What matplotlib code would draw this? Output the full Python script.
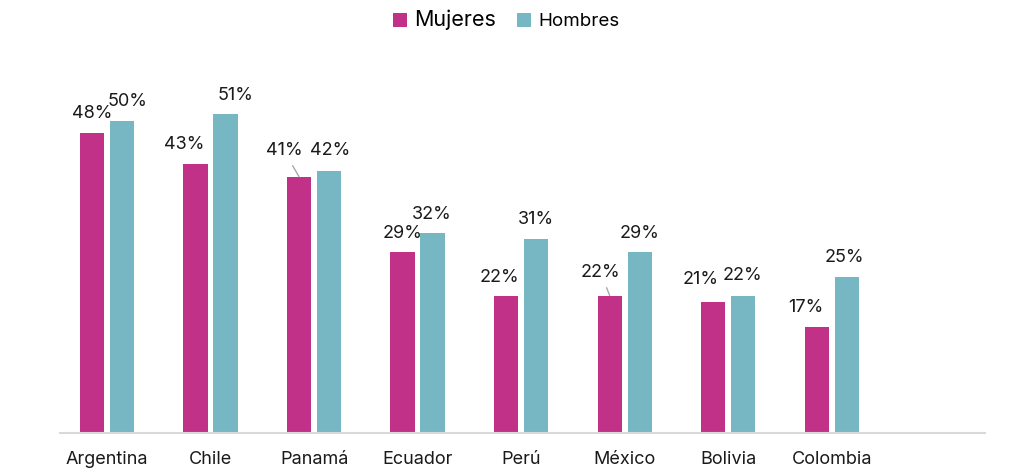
import matplotlib.pyplot as plt
import numpy as np

plt.rcParams['font.family'] = ['Inter', 'DejaVu Sans']

paises = ['Argentina', 'Chile', 'Panamá', 'Ecuador', 'Perú', 'México', 'Bolivia', 'Colombia']
mujeres = [48, 43, 41, 29, 22, 22, 21, 17]
hombres = [50, 51, 42, 32, 31, 29, 22, 25]

# label shifts in pixels (dx, dy above bar top)
off_muj = [(0, 20), (-11, 20), (-15, 26), (0, 18), (-7, 18), (-9, 23), (-13, 22), (-11, 19)]
off_hom = [(5, 19), (10, 19), (1, 20), (-1, 19), (0, 20), (0, 18), (-1, 20), (-2, 19)]
leader = [False, False, True, False, False, True, False, False]

c_muj = '#C23188'
c_hom = '#76B7C3'

fig = plt.figure(figsize=(10.24, 4.75), dpi=100)
# axes: x 60..985 px, y baseline 433, top 60
ax = fig.add_axes([60 / 1024, 42 / 475, 925 / 1024, 373 / 475])

x = np.arange(len(paises))
w = 0.235
d = 0.145
b1 = ax.bar(x - d, mujeres, w, color=c_muj, label='Mujeres')
b2 = ax.bar(x + d, hombres, w, color=c_hom, label='Hombres')

px = 72 / 100  # pixels -> points
for i in range(len(paises)):
    dx, dy = off_muj[i]
    kw = {}
    if leader[i]:
        kw = dict(arrowprops=dict(arrowstyle='-', color='#A8A8A8', lw=1, shrinkA=3, shrinkB=0))
    ax.annotate(f'{mujeres[i]}%', (x[i] - d, mujeres[i]), xytext=(dx * px, dy * px),
                textcoords='offset points', ha='center', va='center', fontsize=13,
                color='#1a1a1a', **kw)
    dx, dy = off_hom[i]
    ax.annotate(f'{hombres[i]}%', (x[i] + d, hombres[i]), xytext=(dx * px, dy * px),
                textcoords='offset points', ha='center', va='center', fontsize=13,
                color='#1a1a1a')

ax.set_xlim(-0.454, 8.48)
ax.set_ylim(0, 59.7)
ax.set_xticks(x)
ax.set_xticklabels(paises, fontsize=13, color='#1a1a1a')
ax.tick_params(axis='x', length=0, pad=13)
ax.set_yticks([])
for s in ['top', 'right', 'left']:
    ax.spines[s].set_visible(False)
ax.spines['bottom'].set_color('#D9D9D9')
ax.spines['bottom'].set_linewidth(1.5)

leg = fig.legend(handles=[b1, b2], loc='center', bbox_to_anchor=(506 / 1024, 1 - 20 / 475),
                 ncol=2, frameon=False, handlelength=0.75, handleheight=0.75,
                 handletextpad=0.4, columnspacing=1.1, fontsize=13.5)
leg.get_texts()[0].set_fontsize(15.5)

fig.savefig('out.png', dpi=100)
